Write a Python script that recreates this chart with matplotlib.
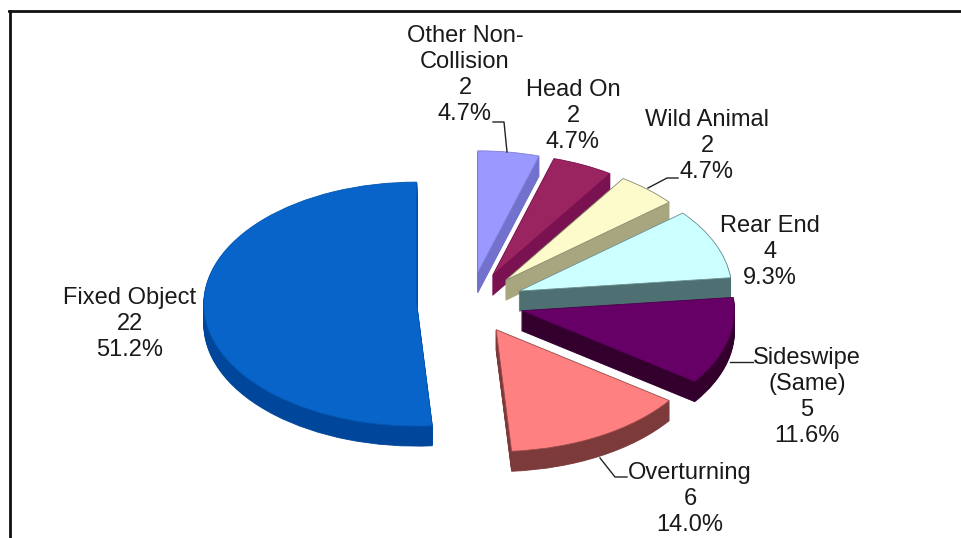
import matplotlib
matplotlib.use("Agg")
import matplotlib.pyplot as plt
from matplotlib.lines import Line2D

plt.rcParams['font.family'] = ['Liberation Sans', 'DejaVu Sans']

W, H = 962, 538
categories = ["Other Non-\nCollision", "Head On", "Wild Animal", "Rear End",
              "Sideswipe\n(Same)", "Overturning", "Fixed Object"]
counts = [2, 2, 2, 4, 5, 6, 22]
top_colors = ["#9999FF", "#9A2460", "#FDFBCB", "#CCFFFF", "#660066", "#FF8080", "#0864C8"]
side_colors = ["#7272CE", "#7A1150", "#A8A67E", "#4F7072", "#33002E", "#7C3A3A", "#00479B"]
edge_colors = ["#8080D8", "#7A1150", "#8A8A70", "#6F8F90", "#4A004A", "#9A4A4A", "#0058B5"]
label_xy = [(465, 75), (573, 116), (707, 146), (770, 252), (807, 397), (690, 499), (130, 324)]
total = sum(counts)

fig = plt.figure(figsize=(W / 100, H / 100), dpi=100, facecolor="white")
ax = fig.add_axes([0, 0, 1, 1])

CX, CY = 470, 303      # pie centre, pixels
RX, RY = 213, 122      # ellipse radii, pixels
DEPTH = 20
explode = [0.25] * len(counts)

def draw_pie(offset, colors, edges, z, lw):
    wedges, _ = ax.pie(counts, explode=explode, colors=colors, startangle=90,
                       counterclock=False, center=(0, -offset / RY), radius=1.0,
                       wedgeprops=dict(linewidth=lw))
    for i, w in enumerate(wedges):
        w.set_zorder(i + z)
        w.set_edgecolor(edges[i])

for d in range(DEPTH, 0, -1):
    draw_pie(d, side_colors, side_colors, 0.1, 0.6)
draw_pie(0, top_colors, edge_colors, 0.5, 0.6)

ax.set_aspect("auto")
ax.set_xlim(-CX / RX, (W - CX) / RX)
ax.set_ylim((CY - H) / RY, CY / RY)
ax.axis("off")

def fx(x):
    return x / W

def fy(y):
    return 1 - y / H

for name, n, (x, y) in zip(categories, counts, label_xy):
    fig.text(fx(x), fy(y), f"{name}\n{n}\n{100 * n / total:.1f}%", ha="center", va="center",
             fontsize=17, color="#1a1a1a", linespacing=1.22, zorder=20)

leaders = [
    [(493, 122), (504, 122), (507, 152)],
    [(678, 178), (667, 178), (648, 188)],
    [(753, 362), (730, 362)],
    [(627, 477), (615, 477), (600, 458)],
]
for pts in leaders:
    fig.add_artist(Line2D([fx(p[0]) for p in pts], [fy(p[1]) for p in pts],
                          color="#222222", lw=1.0, zorder=15))

fig.add_artist(Line2D([fx(9.5), fx(9.5)], [fy(538), fy(11)], color="#111111", lw=2, zorder=15))
fig.add_artist(Line2D([fx(9), fx(962)], [fy(11), fy(11)], color="#111111", lw=2, zorder=15))

fig.savefig("out.png", dpi=100, facecolor="white")
